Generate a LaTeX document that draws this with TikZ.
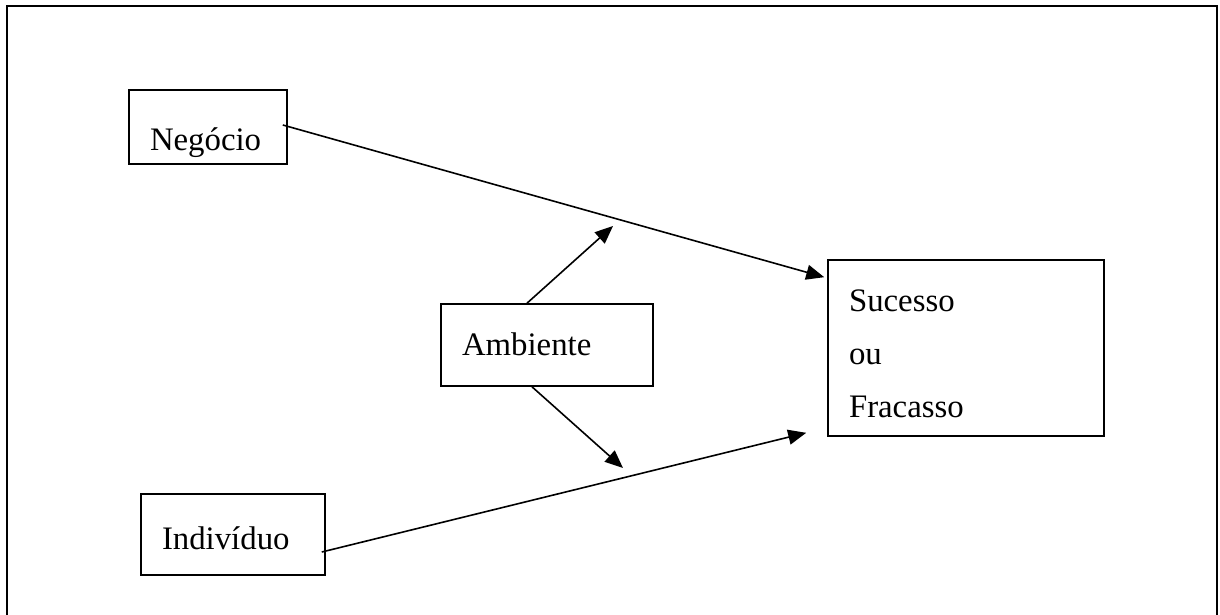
\documentclass[tikz,border=0pt]{standalone}
\usepackage{fontspec}
\setmainfont{Liberation Serif}
\usepackage{tikz}
\usetikzlibrary{arrows.meta}

\tikzset{
  caixa/.style={draw=black, line width=0.8pt, inner xsep=10.5pt, inner ysep=0pt, align=left, font=\fontsize{16.4}{26.5}\selectfont},
  seta/.style={line width=0.8pt, -{Triangle[length=9pt,width=7.5pt]}}
}

\begin{document}
\begin{tikzpicture}[x=0.5pt,y=-0.5pt]

\useasboundingbox (0,0) rectangle (1220,615);

% moldura (aberta em baixo)
\draw[line width=1pt] (7,615) -- (7,6) -- (1217,6) -- (1217,615);

\node[caixa, text width=116*0.5pt, text height=30pt, text depth=7pt] (neg) at (208,127) {Neg\'ocio};
\node[caixa, text width=142*0.5pt, text height=27.5pt, text depth=13pt] (ind) at (233,534.5) {Indiv\'iduo};
\node[caixa, text width=170*0.5pt, text height=25.5pt, text depth=15.5pt] (amb) at (547,345) {Ambiente};
\node[caixa, text width=234*0.5pt, text height=25.5pt, text depth=62.5pt] (suc) at (966,348) {Sucesso\\ou\\Fracasso};

\coordinate (ambcima) at (613,226);
\coordinate (ambbaixo) at (623,468);


\draw[seta] ([xshift=-2.5pt,yshift=1pt]neg.east) -- ([xshift=-1.5pt,yshift=-9pt]suc.north west);
\draw[seta] ([xshift=-2pt,yshift=-8.75pt]ind.east) -- ([xshift=-10.5pt,yshift=2pt]suc.south west);

\draw[seta] ([xshift=-10pt]amb.north) -- (ambcima);
\draw[seta] ([xshift=-7.5pt]amb.south) -- (ambbaixo);

\end{tikzpicture}
\end{document}
